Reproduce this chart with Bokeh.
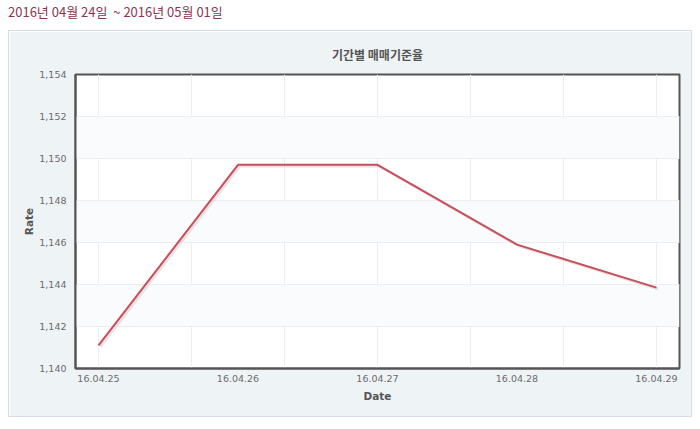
from bokeh.plotting import figure
from bokeh.models import (ColumnDataSource, FixedTicker, NumeralTickFormatter, Div, Range1d)
from bokeh.layouts import column
from bokeh.embed import file_html
from bokeh.resources import INLINE

# data
dates = ["16.04.25", "16.04.26", "16.04.27", "16.04.28", "16.04.29"]
rates = [1141.1, 1149.7, 1149.7, 1145.9, 1143.85]
y_ticks = [1140, 1142, 1144, 1146, 1148, 1150, 1152, 1154]
title_text = "기간별 매매기준율"
header_text = "2016년 04월 24일 &nbsp;~ 2016년 05월 01일"

idx = list(range(len(dates)))
src = ColumnDataSource(dict(x=idx, y=rates))

FONT = "Noto Sans CJK KR"
TICKFONT = "DejaVu Sans"

header = Div(text=header_text, width=684, height=22,
             styles={"color": "#8c3552", "font-size": "13px",
                     "font-family": FONT, "line-height": "18px",
                     "margin": "0", "padding": "0", "overflow": "visible",
                     "position": "relative", "top": "-5px"})

p = figure(width=684, height=387, output_backend="svg", toolbar_location=None,
           x_range=Range1d(-0.165, len(dates) - 1 + 0.165),
           y_range=Range1d(y_ticks[0], y_ticks[-1]),
           min_border_left=66, min_border_right=14,
           min_border_top=43, min_border_bottom=50)
p.styles = {"border": "1px solid #d6dde3"}

p.title.text = title_text
p.title.align = "center"
p.title.text_font = FONT
p.title.text_font_size = "12px"
p.title.text_font_style = "bold"
p.title.text_color = "#555555"
p.title.offset = 0
p.title.standoff = 24

p.border_fill_color = "#eef3f6"
p.background_fill_color = "white"
p.outline_line_color = "#555555"
p.outline_line_width = 2

# line with subtle shadow
p.line(x=[i + 0.012 for i in idx], y=[r - 0.06 for r in rates],
       line_color="#dcc2c7", line_width=3, line_alpha=0.5)
p.line("x", "y", source=src, line_color="#c4505c", line_width=2)

p.xaxis.ticker = FixedTicker(ticks=idx)
p.xaxis.major_label_overrides = {i: d for i, d in enumerate(dates)}
p.xgrid.ticker = FixedTicker(ticks=[k * 2 / 3 for k in range(0, 7)])
p.yaxis.ticker = FixedTicker(ticks=y_ticks)
p.yaxis.formatter = NumeralTickFormatter(format="0,0")

for ax in (p.xaxis[0], p.yaxis[0]):
    ax.axis_line_color = "#555555"
    ax.axis_line_width = 2
    ax.major_tick_line_color = None
    ax.minor_tick_line_color = None
    ax.major_label_text_font = TICKFONT
    ax.major_label_text_font_size = "9.5px"
    ax.major_label_text_color = "#6b6b6b"
    ax.axis_label_text_font = TICKFONT
    ax.axis_label_text_font_size = "10.5px"
    ax.axis_label_text_font_style = "bold"
    ax.axis_label_text_color = "#555555"

p.xaxis.axis_label = "Date"
p.yaxis.axis_label = "Rate"
p.xaxis.major_label_standoff = 0
p.xaxis.axis_label_standoff = 5
p.yaxis.major_label_standoff = 3
p.yaxis.axis_label_standoff = 1

p.xgrid.grid_line_color = "#eceff2"
p.ygrid.grid_line_color = "#eceff2"
p.ygrid.band_fill_color = "#fafbfc"
p.ygrid.band_fill_alpha = 1.0

layout = column(header, p, spacing=0, margin=(8, 8, 0, 8))
open("out.html", "w").write(file_html(layout, INLINE))
